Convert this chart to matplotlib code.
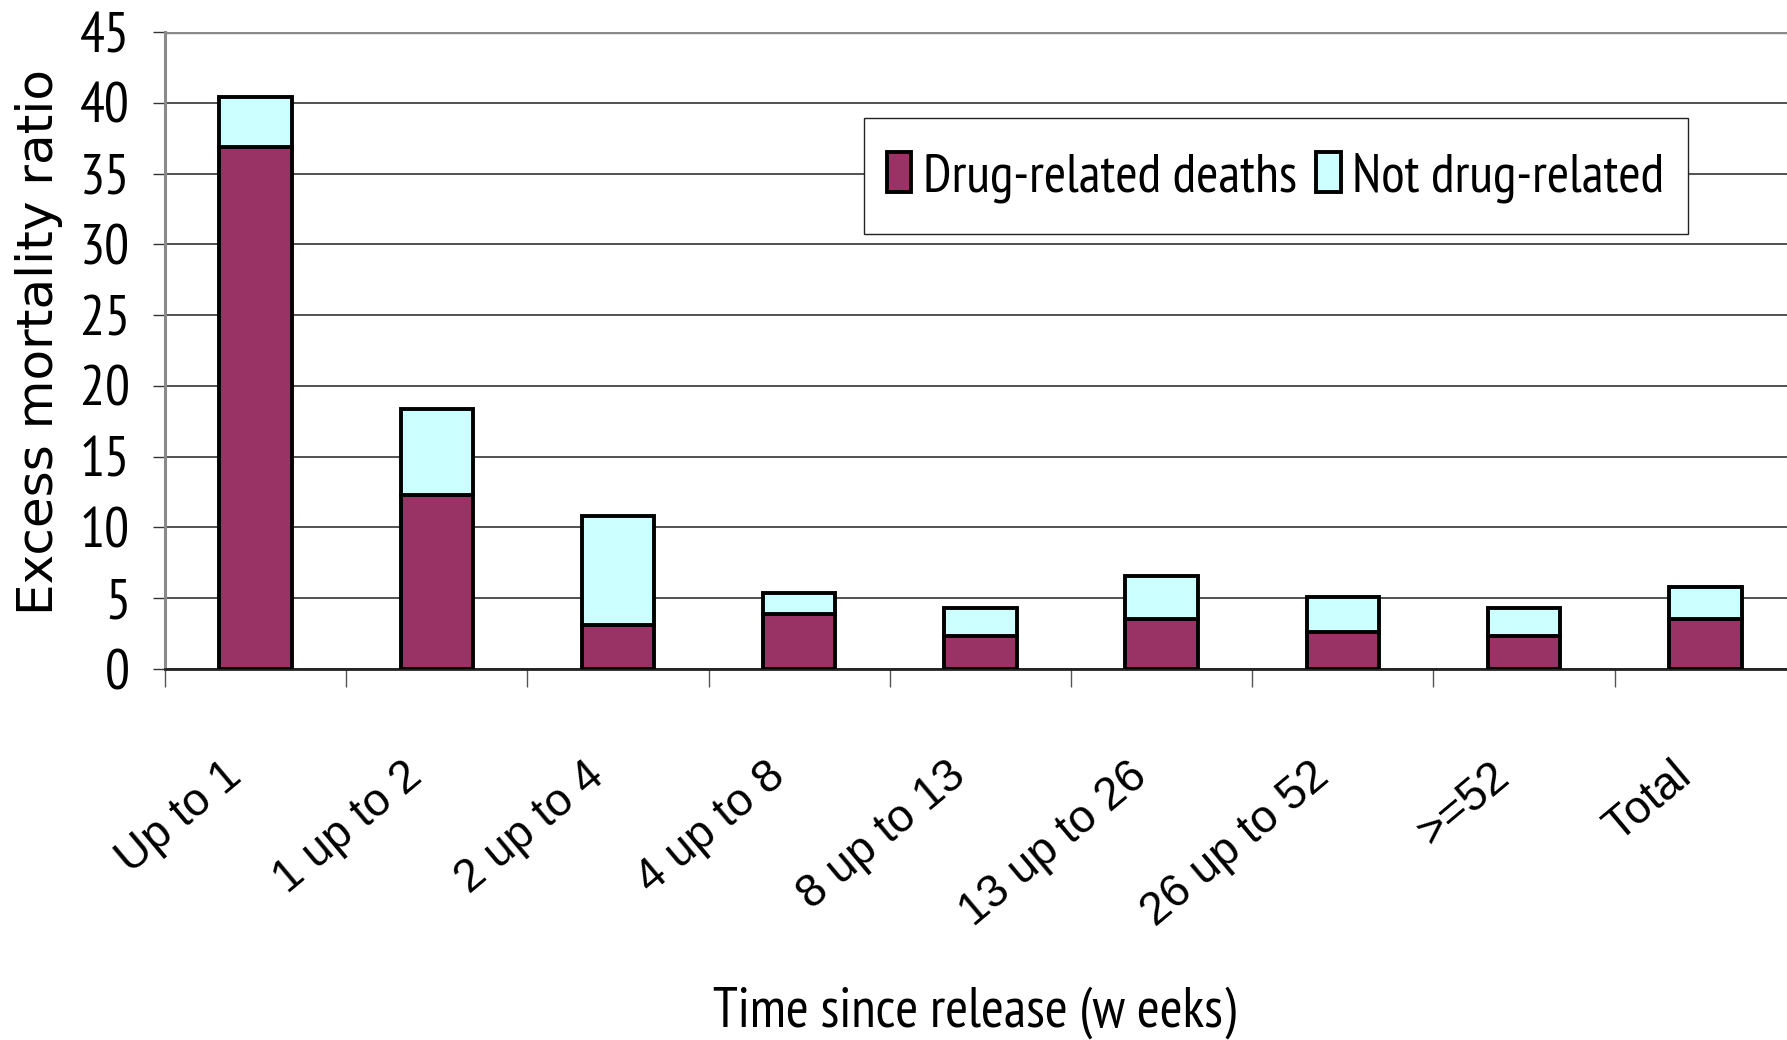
import os
import matplotlib
matplotlib.use('Agg')
import matplotlib.pyplot as plt
import matplotlib.transforms as mtransforms
import matplotlib.font_manager as fm
from matplotlib.patches import Rectangle
import numpy as np

categories = ['Up to 1', '1 up to 2', '2 up to 4', '4 up to 8', '8 up to 13',
              '13 up to 26', '26 up to 52', '>=52', 'Total']
drug_related = [36.9, 12.3, 3.1, 3.9, 2.3, 3.5, 2.6, 2.3, 3.5]
not_drug_related = [3.5, 6.1, 7.7, 1.5, 2.0, 3.1, 2.5, 2.0, 2.3]
yticks = [0, 5, 10, 15, 20, 25, 30, 35, 40, 45]


def rank(p):
    b = os.path.basename(p)
    if 'LiberationSansNarrow' in b or 'Arial Narrow' in b:
        return (0, b)
    if 'Narrow' in b:
        return (1, b)
    return (2, b)


# look for a narrow sans face, else plain Liberation Sans at a smaller size
narrow_files = [f.fname for f in fm.fontManager.ttflist
                if ('Narrow' in f.fname or 'Condensed' in f.fname)
                and 'Sans' in f.fname and f.weight in (400, 'normal') and f.style == 'normal']
narrow_files.sort(key=rank)
if narrow_files and rank(narrow_files[0])[0] < 2:
    def narrow(size):
        return fm.FontProperties(fname=narrow_files[0], size=size)
    nsize = 39
else:
    def narrow(size):
        return fm.FontProperties(family=['Liberation Sans', 'DejaVu Sans'], size=size)
    nsize = 31

fig = plt.figure(figsize=(17.87, 10.40), dpi=100)
ax = fig.add_axes([0.0923, 0.3567, 0.9127, 0.6125])

x = np.arange(len(categories))
purple = '#993366'
cyan = '#CCFFFF'

ax.bar(x, drug_related, width=0.40, color=purple, edgecolor='black',
       linewidth=2.8, zorder=3, label='Drug-related deaths')
ax.bar(x, not_drug_related, width=0.40, bottom=drug_related, color=cyan,
       edgecolor='black', linewidth=2.8, zorder=3, label='Not drug-related')

ax.set_xlim(-0.5, len(categories) - 0.5)
ax.set_ylim(0, 45)
ax.set_yticks(yticks)
ax.yaxis.grid(True, color='#333333', linewidth=1.2, zorder=0)
ax.set_axisbelow(True)

for s in ['right', 'top']:
    ax.spines[s].set_visible(False)
ax.spines['left'].set_color('#8a8a8a')
ax.spines['left'].set_linewidth(2.2)
ax.spines['bottom'].set_color('#222222')
ax.spines['bottom'].set_linewidth(2.0)
ax.axhline(45, color='#8a8a8a', linewidth=2.5, zorder=1)

# y ticks
ax.tick_params(axis='y', direction='out', length=9, width=1.0, color='#333333', pad=16)
for lbl in ax.get_yticklabels():
    lbl.set_fontproperties(narrow(nsize + 1))

# x ticks: labels at centres, tick marks at boundaries
ax.set_xticks(x)
ax.set_xticklabels(categories, rotation=40, ha='right', va='center',
                   rotation_mode='anchor', fontsize=33,
                   family=['Liberation Sans', 'DejaVu Sans'])
ax.set_xticks(np.arange(len(categories)) - 0.5, minor=True)
ax.tick_params(axis='x', which='major', length=0, pad=73)
ax.tick_params(axis='x', which='minor', direction='out', length=13, width=1.0, color='#555555')
shift = mtransforms.ScaledTranslation(-0.2, 0, fig.dpi_scale_trans)
for lbl in ax.get_xticklabels():
    lbl.set_transform(lbl.get_transform() + shift)

ax.set_ylabel('Excess mortality ratio', fontsize=36, family='DejaVu Sans', va='center')
ax.yaxis.set_label_coords(-0.077, 0.513)
ax.set_xlabel('Time since release (w eeks)', fontproperties=narrow(nsize + 1), va='center')
ax.xaxis.set_label_coords(0.496, -0.54)

# legend box drawn separately so its padding can match the original
ax.add_patch(Rectangle((0.4286, 0.683), 0.5054, 0.182, transform=ax.transAxes,
                       facecolor='white', edgecolor='#222222', linewidth=1.0, zorder=4))
leg = ax.legend(loc='center', bbox_to_anchor=(0.681, 0.772), ncol=2,
                prop=narrow(nsize), frameon=False,
                handlelength=0.45, handleheight=0.75, handletextpad=0.22,
                columnspacing=0.35, borderpad=0.2, borderaxespad=0)
leg.set_zorder(5)
for h in leg.legend_handles:
    h.set_linewidth(2.8)

fig.savefig('out.png', dpi=100)
